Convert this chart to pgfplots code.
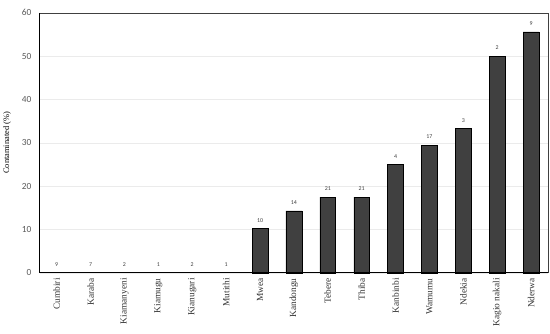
\documentclass[border=0pt]{standalone}
\usepackage{fontspec}
\setmainfont{Liberation Serif}
\newfontfamily\carlito{Carlito}
\usepackage{pgfplots}
\pgfplotsset{compat=1.18}
\definecolor{barfill}{HTML}{404040}
\definecolor{tickgray}{HTML}{595959}
\begin{document}
\begin{tikzpicture}
\begin{axis}[
    at={(0,0)},
    scale only axis,
    width=514bp, height=263bp,
    ymin=0, ymax=60,
    ytick={0,10,...,60},
    xmin=-0.5, xmax=14.5,
    xtick={0,...,14},
    xticklabels={Cumbiri,Karaba,Kiamanyeni,Kiamugu,Kianugari,Mutithi,Mwea,Kandongu,Tebere,Thiba,Kanbinbi,Wamumu,Ndekia,Kagio nakali,Nderwa},
    x tick label style={rotate=90, anchor=east, font=\fontsize{9.5}{10}\selectfont, text=black!80, xshift=-2bp},
    y tick label style={font=\carlito\fontsize{9.5}{10}\selectfont, text=tickgray, xshift=-5bp},
    /pgf/number format/assume math mode=true,
    major tick length=0pt,
    ymajorgrids=true,
    major grid style={black!8, line width=0.5pt},
    axis line style={draw=none},
    ylabel={Contaminated (\%)},
    ylabel style={font=\fontsize{8.5}{9}\selectfont, at={(axis description cs:-0.05,0.5)}},
    ybar, bar width=16bp, bar shift=0pt,
    nodes near coords,
    point meta=explicit symbolic,
    every node near coord/.append style={font=\carlito\fontsize{6}{7}\selectfont, text=black!75, yshift=3bp},
    clip=false,
]
\addplot[fill=none, draw=none] table[meta=n] {
x y n
0 0 9
1 0 7
2 0 2
3 0 1
4 0 2
5 0 1
};
\addplot[fill=barfill, draw=black, line width=0.5pt] table[meta=n] {
x y n
6 10.2 10
7 14.3 14
8 17.5 21
9 17.5 21
10 25.0 4
11 29.4 17
12 33.3 3
13 50.0 2
14 55.6 9
};
\draw[black!75, line width=0.6pt] (rel axis cs:0,1) -- (rel axis cs:1,1) -- (rel axis cs:1,0);
\draw[black, line width=1pt] (rel axis cs:0,1) -- (rel axis cs:0,0) -- (rel axis cs:1,0);
\path (rel axis cs:1,1) ++(2bp,13bp) coordinate (tr);
\path (rel axis cs:1,0) ++(2bp,-61bp) coordinate (br);
\end{axis}
\end{tikzpicture}
\end{document}
